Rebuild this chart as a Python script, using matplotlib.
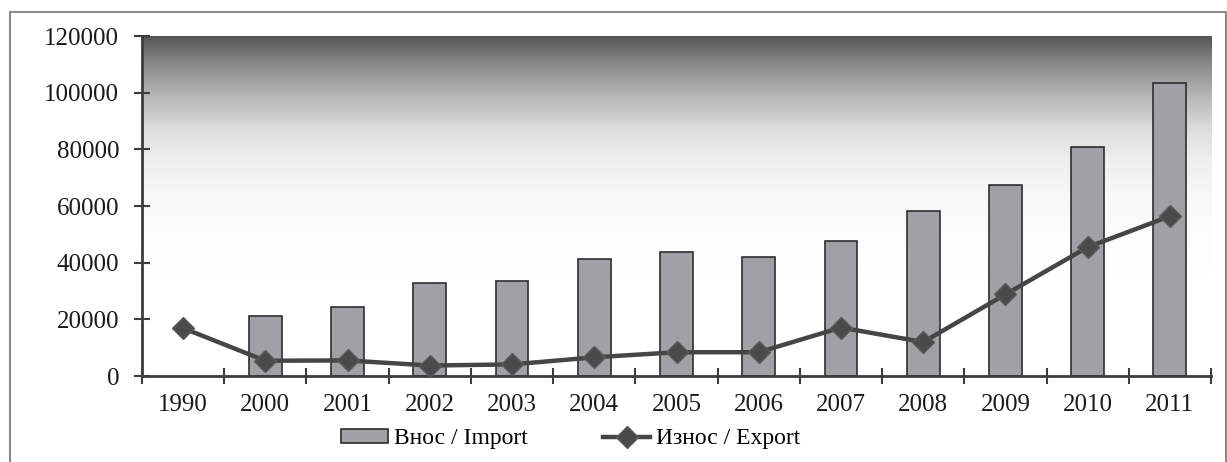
import numpy as np
import matplotlib
matplotlib.use("Agg")
import matplotlib.pyplot as plt
from matplotlib.colors import LinearSegmentedColormap
from matplotlib.patches import Rectangle

# ========================================================================
# data

years = ['1990', '2000', '2001', '2002', '2003', '2004', '2005',
         '2006', '2007', '2008', '2009', '2010', '2011']
imports = [np.nan, 21200, 24400, 32800, 33400, 41400, 43900,
           42100, 47600, 58100, 67300, 81000, 103300]
exports = [16900, 5400, 5500, 3700, 4100, 6600, 8400,
           8400, 17100, 12000, 28800, 45500, 56400]
y_ticks = [0, 20000, 40000, 60000, 80000, 100000, 120000]

label_imp = 'Внос / Import'
label_exp = 'Износ / Export'

# ========================================================================
# plot

plt.rcParams['font.family'] = ['Liberation Serif', 'DejaVu Serif']

fig = plt.figure(figsize=(12.27, 4.62), dpi=100)
ax = fig.add_axes([0.1157, 0.1861, 0.8713, 0.7359])

# grey background, dark at top fading to white
grad = np.linspace(0, 1, 512).reshape(-1, 1)
stops = [(0.0, '#555555'), (0.08, '#8a8a8a'), (0.18, '#b8b8b8'),
         (0.275, '#dedede'), (0.37, '#efefef'), (0.47, '#f8f8f8'),
         (0.57, '#fcfcfc'), (0.7, '#ffffff'), (1.0, '#ffffff')]
cmap = LinearSegmentedColormap.from_list('bg', stops)
ax.imshow(grad, cmap=cmap, aspect='auto', origin='upper',
          extent=[0, 1, 0, 1], transform=ax.transAxes, zorder=0)

x = np.arange(len(years))
bars = ax.bar(x, imports, width=0.4, color='#a0a1a5', edgecolor='#2e2e2e',
              linewidth=1.2, zorder=2, label=label_imp)
line, = ax.plot(x, exports, color='#454545', linewidth=3.2, marker='D',
                markersize=11, markerfacecolor='#4a4a4a',
                markeredgecolor='#5a5a5a', zorder=3, label=label_exp)

ax.set_xlim(-0.5, len(years) - 0.5)
ax.set_ylim(0, 120000)
ax.set_yticks(y_ticks)
ax.set_yticklabels([str(v) for v in y_ticks])
ax.set_xticks(x)
ax.set_xticklabels(years)
ax.set_xticks(np.arange(-0.5, len(years)), minor=True)

for s in ['top', 'right']:
    ax.spines[s].set_visible(False)
for s in ['left', 'bottom']:
    ax.spines[s].set_color('#3c3c3c')
    ax.spines[s].set_linewidth(2)

ax.tick_params(axis='y', direction='inout', length=11, width=1.5,
               color='#3c3c3c', labelsize=18, pad=11, labelcolor='#1a1a1a')
ax.tick_params(axis='x', which='major', length=0, labelsize=18, pad=13,
               labelcolor='#1a1a1a')
ax.tick_params(axis='x', which='minor', direction='inout', length=11,
               width=1.5, color='#3c3c3c')

leg = fig.legend([bars, line], [label_imp, label_exp], loc='center',
                 bbox_to_anchor=(0.465, 0.05), ncol=2,
                 frameon=False, fontsize=17, handlelength=2.0,
                 handleheight=0.5, handletextpad=0.25, columnspacing=3.2)

# frame round the figure
fig.patches.append(Rectangle((10 / 1227, -0.1), 1216 / 1227, 1.1 - 12 / 462,
                             transform=fig.transFigure, fill=False,
                             edgecolor='#8a8a8a', linewidth=1.5))

fig.savefig('out.png', dpi=100)
